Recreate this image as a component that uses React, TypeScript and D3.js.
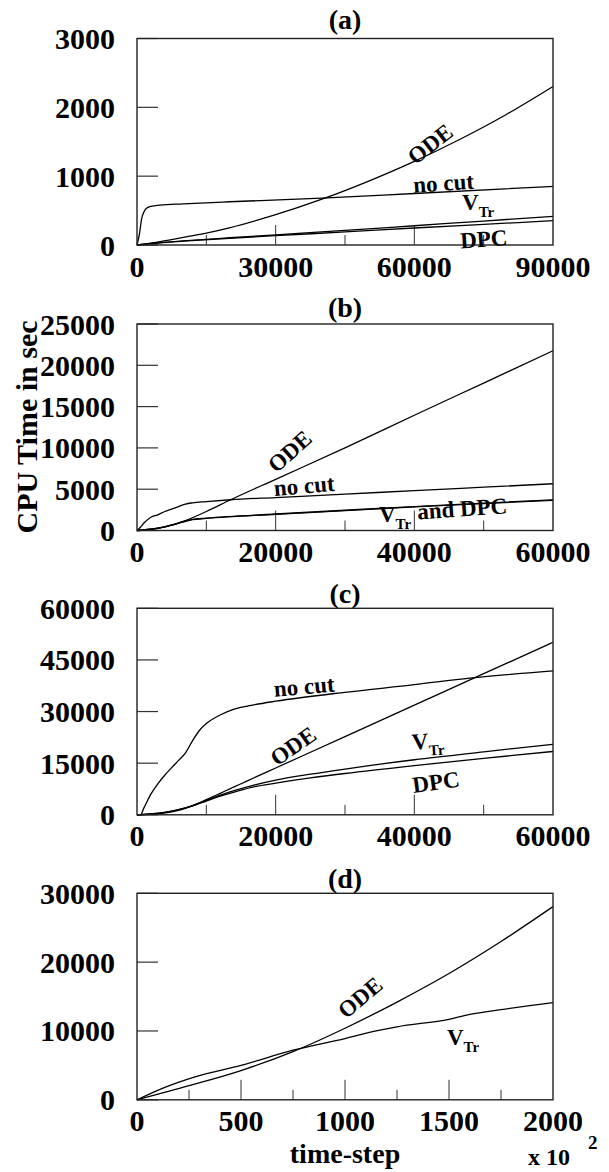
import React, { useEffect, useRef } from 'react';
import * as d3 from 'd3';

// ---- panel (a) ----
const aOdeX = [0, 5000, 10000, 15000, 20000, 30000, 40000, 50000, 60000, 70000, 80000, 90000];
const aOdeY = [0, 50, 110, 174, 250, 440, 665, 925, 1215, 1540, 1900, 2303];
const aNoCutX = [0, 500, 1000, 1500, 2000, 3000, 4000, 5000, 10000, 20000, 40000, 60000, 90000];
const aNoCutY = [0, 150, 380, 480, 530, 560, 572, 580, 598, 628, 680, 748, 852];
const aVtrX = [0, 5000, 10000, 20000, 30000, 45000, 60000, 75000, 90000];
const aVtrY = [0, 35, 60, 105, 148, 212, 280, 348, 416];
const aDpcX = [0, 5000, 10000, 20000, 30000, 45000, 60000, 75000, 90000];
const aDpcY = [0, 32, 55, 97, 135, 190, 247, 300, 353];

// ---- panel (b) ----
const bOdeX = [0, 2000, 4000, 7000, 10000, 13500, 20000, 30000, 40000, 50000, 60000];
const bOdeY = [0, 150, 450, 1200, 2300, 3720, 6200, 10000, 13950, 17850, 21760];
const bNoCutX = [0, 500, 1000, 2000, 3000, 4000, 5000, 6000, 7000, 8000, 10000, 13500, 20000, 30000, 40000, 50000, 60000];
const bNoCutY = [0, 400, 900, 1600, 1900, 2300, 2600, 2900, 3200, 3350, 3500, 3720, 3990, 4400, 4825, 5240, 5660];
const bVtrX = [0, 2000, 4000, 6000, 7000, 8000, 10000, 20000, 30000, 40000, 50000, 60000];
const bVtrY = [0, 150, 450, 900, 1150, 1350, 1500, 2000, 2450, 2900, 3320, 3720];
const bDpcX = [0, 2000, 4000, 6000, 7000, 8000, 10000, 20000, 30000, 40000, 50000, 60000];
const bDpcY = [0, 150, 440, 880, 1120, 1310, 1460, 1950, 2400, 2850, 3260, 3660];

// ---- panel (c) ----
const cNoCutX = [0, 500, 1000, 2000, 3000, 4000, 5000, 6000, 7000, 8000, 9000, 10000, 12000, 14000, 17000, 20000, 30000, 40000, 48000, 60000];
const cNoCutY = [0, 0, 2000, 6000, 9000, 11500, 13700, 15800, 18000, 21500, 24500, 26500, 29000, 30700, 32000, 33000, 35600, 37800, 39700, 41800];
const cOdeX = [0, 3000, 6000, 8000, 10000, 12000, 14000, 16000, 20000, 30000, 40000, 50000, 60000];
const cOdeY = [0, 300, 1300, 2600, 4400, 6250, 8100, 9950, 13600, 22700, 31850, 41000, 50130];
const cVtrX = [0, 4000, 6000, 8000, 10000, 12000, 14000, 17000, 20000, 25000, 30000, 40000, 50000, 60000];
const cVtrY = [0, 700, 1500, 2700, 4200, 5700, 7000, 8700, 10100, 11800, 13300, 16000, 18300, 20500];
const cDpcX = [0, 4000, 6000, 8000, 10000, 12000, 14000, 17000, 20000, 25000, 30000, 40000, 50000, 60000];
const cDpcY = [0, 700, 1500, 2600, 4000, 5400, 6600, 8200, 9200, 10700, 12000, 14300, 16400, 18400];

// ---- panel (d) ----
const dOdeX = [0, 250, 500, 750, 1000, 1250, 1500, 1750, 2000];
const dOdeY = [0, 2050, 4250, 7000, 10400, 14200, 18350, 23000, 28060];
const dVtrX = [0, 125, 275, 500, 750, 1000, 1150, 1250, 1500, 1600, 1750, 2000];
const dVtrY = [0, 1700, 3300, 5000, 7200, 8900, 10000, 10600, 11700, 12400, 13100, 14125];

// ---- axes ----
const titles = ['(a)', '(b)', '(c)', '(d)'];
const xMax = [90000, 60000, 60000, 2000];
const yMax = [3000, 25000, 60000, 30000];
const yTicks = [
  [0, 1000, 2000, 3000],
  [0, 5000, 10000, 15000, 20000, 25000],
  [0, 15000, 30000, 45000, 60000],
  [0, 10000, 20000, 30000],
];
const xTicks = [
  [0, 30000, 60000, 90000],
  [0, 20000, 40000, 60000],
  [0, 20000, 40000, 60000],
  [0, 500, 1000, 1500, 2000],
];
const xMajor = [
  [30000, 60000],
  [20000, 40000],
  [20000, 40000],
  [500, 1000, 1500],
];
const xMinor = [
  [15000, 45000, 75000],
  [10000, 30000, 50000],
  [10000, 30000, 50000],
  [250, 750, 1250, 1750],
];

type Series = { x: number[]; y: number[] };
const series: Series[][] = [
  [{ x: aOdeX, y: aOdeY }, { x: aNoCutX, y: aNoCutY }, { x: aVtrX, y: aVtrY }, { x: aDpcX, y: aDpcY }],
  [{ x: bOdeX, y: bOdeY }, { x: bNoCutX, y: bNoCutY }, { x: bVtrX, y: bVtrY }, { x: bDpcX, y: bDpcY }],
  [{ x: cNoCutX, y: cNoCutY }, { x: cOdeX, y: cOdeY }, { x: cVtrX, y: cVtrY }, { x: cDpcX, y: cDpcY }],
  [{ x: dOdeX, y: dOdeY }, { x: dVtrX, y: dVtrY }],
];

// curve labels: [text, sub, x, y, rotation, anchor]
type Note = [string, string, number, number, number, string];
const notes: Note[][] = [
  [
    ['ODE', '', 63400, 1471, -38, 'middle'],
    ['no cut', '', 66300, 905, -4, 'middle'],
    ['V', 'Tr', 73800, 512, 0, 'middle'],
    ['DPC', '', 75000, 91, -4, 'middle'],
  ],
  [
    ['ODE', '', 22000, 9600, -42, 'middle'],
    ['no cut', '', 24100, 5460, -5, 'middle'],
    ['V', 'Tr', 34900, 970, 0, 'start'],
    ['and DPC', '', 40500, 1330, -4, 'start'],
  ],
  [
    ['no cut', '', 24100, 37400, -5, 'middle'],
    ['ODE', '', 22500, 20000, -35, 'middle'],
    ['V', 'Tr', 39700, 18900, -4, 'start'],
    ['DPC', '', 43100, 9600, -8, 'middle'],
  ],
  [
    ['ODE', '', 1072, 14900, -40, 'middle'],
    ['V', 'Tr', 1490, 7900, 0, 'start'],
  ],
];

const tops = [38.5, 324, 608.3, 893.3];
const titleGap = [10, 7, 5, 5];
const left = 137;
const right = 553;
const plotH = 206.5;
const font = '"Liberation Serif", "Times New Roman", serif';

const App = () => {
  const ref = useRef<SVGSVGElement>(null);

  useEffect(() => {
    const svg = d3.select(ref.current);
    svg.selectAll('*').remove();

    titles.forEach((title, i) => {
      const top = tops[i];
      const bottom = top + plotH;
      const x = d3.scaleLinear().domain([0, xMax[i]]).range([left, right]);
      const y = d3.scaleLinear().domain([0, yMax[i]]).range([bottom, top]);
      const g = svg.append('g');

      g.append('text')
        .attr('x', (left + right) / 2)
        .attr('y', top - titleGap[i])
        .attr('text-anchor', 'middle')
        .attr('font-size', 28)
        .text(title);

      // y ticks
      g.selectAll('.yt')
        .data(yTicks[i])
        .join('line')
        .attr('x1', left)
        .attr('x2', left + 21)
        .attr('y1', d => y(d))
        .attr('y2', d => y(d))
        .attr('stroke', '#333')
        .attr('stroke-width', 1.2);
      g.selectAll('.yl')
        .data(yTicks[i])
        .join('text')
        .attr('x', left - 22)
        .attr('y', d => y(d))
        .attr('dy', '0.35em')
        .attr('text-anchor', 'end')
        .attr('font-size', 30)
        .text(d => String(d));

      // x ticks
      g.selectAll('.xM')
        .data(xMajor[i])
        .join('line')
        .attr('x1', d => x(d))
        .attr('x2', d => x(d))
        .attr('y1', bottom)
        .attr('y2', bottom - 20)
        .attr('stroke', '#333')
        .attr('stroke-width', 1);
      g.selectAll('.xm')
        .data(xMinor[i])
        .join('line')
        .attr('x1', d => x(d))
        .attr('x2', d => x(d))
        .attr('y1', bottom)
        .attr('y2', bottom - 10)
        .attr('stroke', '#333')
        .attr('stroke-width', 1);
      g.selectAll('.xl')
        .data(xTicks[i])
        .join('text')
        .attr('x', d => x(d))
        .attr('y', bottom + 21)
        .attr('dy', '0.35em')
        .attr('text-anchor', 'middle')
        .attr('font-size', 30)
        .text(d => String(d));

      // curves
      const line = d3.line<[number, number]>()
        .x(d => x(d[0]))
        .y(d => y(d[1]))
        .curve(d3.curveMonotoneX);
      series[i].forEach(s => {
        g.append('path')
          .datum(s.x.map((v, k) => [v, s.y[k]] as [number, number]))
          .attr('fill', 'none')
          .attr('stroke', '#000')
          .attr('stroke-width', 1.3)
          .attr('d', line);
      });

      // frame
      g.append('rect')
        .attr('x', left)
        .attr('y', top)
        .attr('width', right - left)
        .attr('height', plotH)
        .attr('fill', 'none')
        .attr('stroke', '#222')
        .attr('stroke-width', 1.4);

      // curve labels
      notes[i].forEach(([t, sub, nx, ny, rot, anchor]) => {
        const px = x(nx);
        const py = y(ny);
        const txt = g.append('text')
          .attr('transform', `translate(${px},${py}) rotate(${rot})`)
          .attr('text-anchor', anchor)
          .attr('dy', anchor === 'middle' && !sub ? '0.35em' : 0)
          .attr('font-size', 23);
        txt.append('tspan').text(t);
        if (sub) {
          txt.append('tspan').attr('dy', 7).attr('font-size', 15).text(sub);
        }
      });
    });

    svg.append('text')
      .attr('transform', 'translate(37,427) rotate(-90)')
      .attr('text-anchor', 'middle')
      .attr('font-size', 30)
      .text('CPU Time in sec');

    svg.append('text')
      .attr('x', (left + right) / 2)
      .attr('y', 1163)
      .attr('text-anchor', 'middle')
      .attr('font-size', 28)
      .text('time-step');

    const mult = svg.append('text')
      .attr('x', 528)
      .attr('y', 1165)
      .attr('font-size', 24);
    mult.append('tspan').text('x 10');
    mult.append('tspan').attr('x', 588).attr('y', 1149).attr('font-size', 19).text('2');
  }, []);

  return (
    <svg
      ref={ref}
      width={609}
      height={1172}
      style={{ position: 'absolute', left: 0, top: 0, background: '#fff', fontFamily: font, fontWeight: 'bold' }}
    />
  );
};

export default App;
